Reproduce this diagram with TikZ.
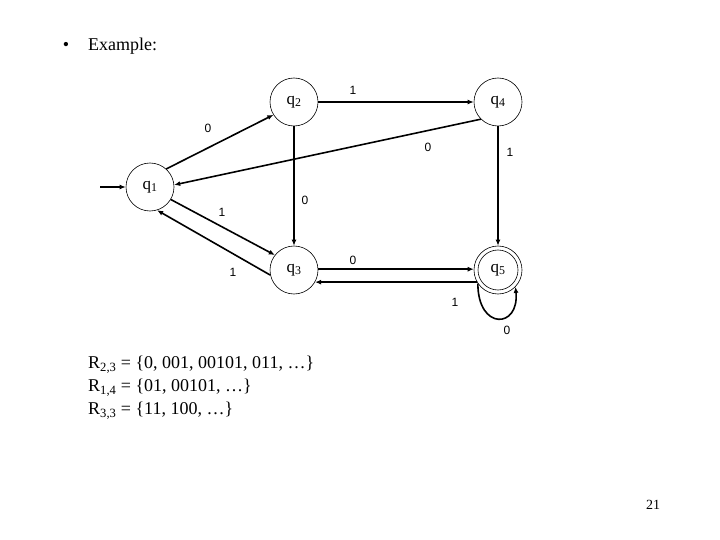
\documentclass[tikz,border=0pt]{standalone}
\usepackage{fontspec}
\setmainfont{Liberation Serif}
\newfontfamily\labfont{Liberation Sans}
\usetikzlibrary{arrows.meta}
\begin{document}
\begin{tikzpicture}[x=1pt,y=-1pt,
  state/.style={circle,draw,line width=0.6pt,minimum size=48pt,inner sep=0pt,font=\fontsize{17}{18}\selectfont},
  edge/.style={line width=1.6pt,-{Latex[length=6pt,width=5pt]}},
  lbl/.style={font=\labfont\fontsize{12}{14}\selectfont,inner sep=0pt},
  txt/.style={font=\fontsize{18}{22}\selectfont,anchor=west,inner sep=0pt}]
\useasboundingbox (0,0) rectangle (720,540);

\node[inner sep=0pt,font=\fontsize{18}{22}\selectfont] (bul) at (66,46) {•};
\node[txt] (ex) at (88,46) {Example:};

\node[state] (q1) at (150,187) {q\textsubscript{1}};
\node[state] (q2) at (294,102) {q\textsubscript{2}};
\node[state] (q4) at (498,102) {q\textsubscript{4}};
\node[state] (q3) at (294,270) {q\textsubscript{3}};
\node[state] (q5) at (498,270) {q\textsubscript{5}};
\draw[line width=0.6pt] (q5.center) circle (20pt);

\coordinate (start) at (100,187);
\draw[edge] (start) -- (q1.west);
\draw[edge] (q1.48) -- (q2.212);
\draw[edge] (q4.225) -- (q1.5);
\draw[edge] (q2.east) -- (q4.west);
\draw[edge] (q2.south) -- (q3.north);
\draw[edge] (q4.south) -- (q5.north);
\draw[edge] (q1.329) -- (q3.142);
\draw[edge] (q3.192) -- (q1.287);
\draw[edge] (q3.2) -- (q5.178);
\draw[edge] (q5.210) -- (q3.330);
\draw[edge] (q5.214) .. controls +(0,47) and +(4,42) .. (q5.316);

\node[lbl] (l12) at (208,128) {0};
\node[lbl] (l41) at (428,147) {0};
\node[lbl] (l24) at (353,90) {1};
\node[lbl] (l23) at (305,200) {0};
\node[lbl] (l45) at (510,152) {1};
\node[lbl] (l13) at (222,212) {1};
\node[lbl] (l31) at (233,272) {1};
\node[lbl] (l35) at (353,260) {0};
\node[lbl] (l53) at (455,302) {1};
\node[lbl] (l55) at (507,330) {0};

\node[txt] (r1) at (88,365) {R\textsubscript{2,3} = \{0, 001, 00101, 011, …\}};
\node[txt] (r2) at (88,388) {R\textsubscript{1,4} = \{01, 00101, …\}};
\node[txt] (r3) at (88,411) {R\textsubscript{3,3} = \{11, 100, …\}};

\node[inner sep=0pt,font=\fontsize{14}{16}\selectfont] (pg) at (653,505) {21};
\end{tikzpicture}
\end{document}
